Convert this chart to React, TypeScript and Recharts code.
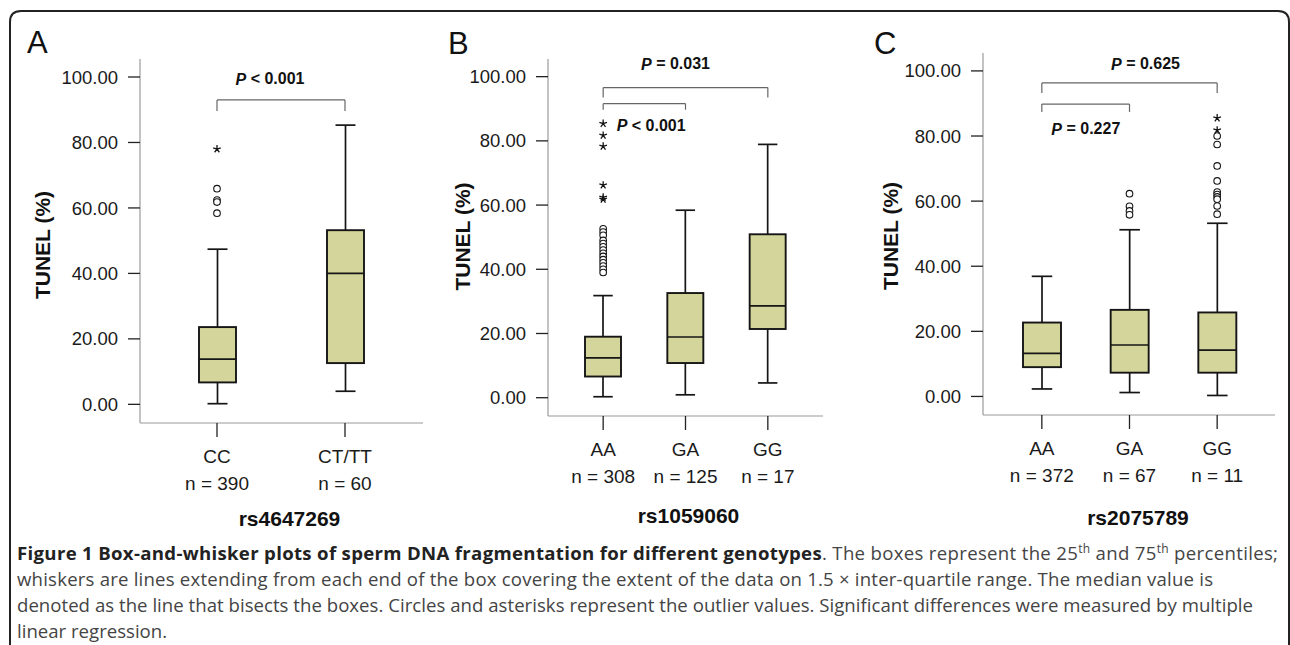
import React from 'react';
import {
  ComposedChart,
  Bar,
  Scatter,
  XAxis,
  YAxis,
  ReferenceLine,
  ReferenceDot,
} from 'recharts';

// ---- data (TUNEL %) ----
const genotypesA = ['CC', 'CT/TT'];
const countsA = [390, 60];
const lowA = [0.2, 4.0];
const q1A = [6.7, 12.6];
const medianA = [13.8, 40.0];
const q3A = [23.6, 53.2];
const highA = [47.4, 85.3];
const circlesA = [[65.9, 62.4, 61.8, 58.4], []];
const starsA = [[78.0], []];

const genotypesB = ['AA', 'GA', 'GG'];
const countsB = [308, 125, 17];
const lowB = [0.3, 0.9, 4.6];
const q1B = [6.6, 10.8, 21.4];
const medianB = [12.4, 18.9, 28.6];
const q3B = [19.0, 32.6, 50.9];
const highB = [31.8, 58.4, 78.9];
const circlesB = [
  [52.6, 51.6, 50.6, 49.0, 48.0, 47.0, 46.0, 45.0, 44.0, 43.0, 42.0, 41.0, 40.0, 39.0],
  [],
  [],
];
const starsB = [[85.4, 81.7, 78.3, 66.2, 62.4, 61.8], [], []];

const genotypesC = ['AA', 'GA', 'GG'];
const countsC = [372, 67, 11];
const lowC = [2.3, 1.2, 0.3];
const q1C = [9.0, 7.3, 7.3];
const medianC = [13.2, 15.8, 14.2];
const q3C = [22.7, 26.6, 25.8];
const highC = [36.9, 51.2, 53.2];
const circlesC = [
  [],
  [62.3, 58.4, 57.0, 55.8],
  [80.0, 77.4, 70.8, 66.2, 62.8, 62.0, 61.3, 60.6, 58.5, 56.0],
];
const starsC = [[], [], [85.5, 81.8]];

const yTicks = [0, 20, 40, 60, 80, 100];

// significance brackets: from / to category, level and foot in data units
const bracketsA = [{ from: 'CC', to: 'CT/TT', level: 93.0, foot: 89.6 }];
const bracketsB = [
  { from: 'AA', to: 'GG', level: 96.6, foot: 93.5 },
  { from: 'AA', to: 'GA', level: 91.6, foot: 89.7 },
];
const bracketsC = [
  { from: 'AA', to: 'GG', level: 96.3, foot: 93.2 },
  { from: 'AA', to: 'GA', level: 89.8, foot: 87.4 },
];
const pValuesA = [{ at: 'CC', value: 99.4, text: ' < 0.001', shift: 53 }];
const pValuesB = [
  { at: 'GA', value: 104.0, text: ' = 0.031', shift: -10 },
  { at: 'AA', value: 84.8, text: ' < 0.001', shift: 48 },
];
const pValuesC = [
  { at: 'GA', value: 102.2, text: ' = 0.625', shift: 16 },
  { at: 'AA', value: 82.2, text: ' = 0.227', shift: 44 },
];

const FONT = '"Liberation Sans", Arial, sans-serif';
const INK = '#151515';
const BOX_FILL = '#d4d59b';

function buildRows(names, low, q1, med, q3, high) {
  return names.map((name, i) => ({
    name,
    low: low[i],
    q1: q1[i],
    median: med[i],
    q3: q3[i],
    high: high[i],
    box: [q1[i], q3[i]],
  }));
}

function buildOutliers(names, circles, stars) {
  const out = [];
  names.forEach((name, i) => {
    circles[i].forEach((v) => out.push({ name, value: v, kind: 'o' }));
    stars[i].forEach((v) => out.push({ name, value: v, kind: '*' }));
  });
  return out;
}

// box + whiskers, using the bar rect (q1..q3) to recover the y scale
function BoxShape(props: any) {
  const { x, y, width, height, payload } = props;
  if (height == null || !payload) return null;
  const { q1, q3, median, low, high } = payload;
  const k = height / (q3 - q1);
  const yOf = (v: number) => y + (q3 - v) * k;
  const cx = x + width / 2;
  const cap = width * 0.27;
  return (
    <g>
      <line x1={cx} x2={cx} y1={yOf(high)} y2={y} stroke={INK} strokeWidth={1.7} />
      <line x1={cx} x2={cx} y1={y + height} y2={yOf(low)} stroke={INK} strokeWidth={1.7} />
      <line x1={cx - cap} x2={cx + cap} y1={yOf(high)} y2={yOf(high)} stroke={INK} strokeWidth={1.7} />
      <line x1={cx - cap} x2={cx + cap} y1={yOf(low)} y2={yOf(low)} stroke={INK} strokeWidth={1.7} />
      <rect x={x} y={y} width={width} height={height} fill={BOX_FILL} stroke={INK} strokeWidth={1.9} />
      <line x1={x} x2={x + width} y1={yOf(median)} y2={yOf(median)} stroke={INK} strokeWidth={1.7} />
    </g>
  );
}

function OutlierShape(props: any) {
  const { cx, cy, payload } = props;
  if (cx == null || cy == null) return null;
  if (payload.kind === 'o') {
    return <circle cx={cx} cy={cy} r={3.3} fill="#fff" stroke={INK} strokeWidth={1.1} />;
  }
  const arms = [-90, -18, 54, 126, 198].map((a) => {
    const r = (a * Math.PI) / 180;
    return `M${cx},${cy}L${cx + 4 * Math.cos(r)},${cy + 4 * Math.sin(r)}`;
  });
  return <path d={arms.join('')} stroke={INK} strokeWidth={1.3} fill="none" />;
}

function Panel({
  names,
  counts,
  rows,
  outliers,
  brackets,
  pValues,
  snp,
  layout,
}: any) {
  const xTick = (p: any) => {
    const { x, y, payload, index } = p;
    return (
      <g>
        <text x={x} y={y + 26} textAnchor="middle" fontSize={19} fill="#1a1a1a" fontFamily={FONT}>
          {payload.value}
        </text>
        <text x={x} y={y + 53} textAnchor="middle" fontSize={19} fill="#1a1a1a" fontFamily={FONT}>
          {`n = ${counts[names.indexOf(payload.value)] ?? counts[index]}`}
        </text>
      </g>
    );
  };

  const yTitle = (p: any) => {
    const vb = p.viewBox;
    const cx = vb.x + layout.titleX;
    const cy = vb.y + vb.height / 2 + layout.titleDy;
    return (
      <text
        x={cx}
        y={cy}
        transform={`rotate(-90 ${cx} ${cy})`}
        textAnchor="middle"
        dominantBaseline="central"
        fontSize={21}
        fontWeight={700}
        fill="#111"
        fontFamily={FONT}
      >
        TUNEL (%)
      </text>
    );
  };

  const xTitle = (p: any) => {
    const vb = p.viewBox;
    return (
      <text
        x={vb.x + vb.width / 2 + layout.snpDx}
        y={vb.y + layout.snpDy}
        textAnchor="middle"
        dominantBaseline="central"
        fontSize={21}
        fontWeight={700}
        fill="#111"
        fontFamily={FONT}
      >
        {snp}
      </text>
    );
  };

  return (
    <div style={{ position: 'absolute', left: layout.left, top: 0 }}>
      <ComposedChart
        width={layout.width}
        height={layout.height}
        data={rows}
        margin={{ top: layout.top, right: layout.right, left: 0, bottom: 0 }}
        barSize={layout.barSize}
      >
        <XAxis
          dataKey="name"
          type="category"
          allowDuplicatedCategory={false}
          interval={0}
          height={layout.xAxisHeight}
          padding={{ left: layout.padL, right: layout.padR }}
          tickSize={14}
          tickMargin={0}
          axisLine={{ stroke: '#9a9a9a', strokeWidth: 1.2 }}
          tickLine={{ stroke: '#222', strokeWidth: 1.3 }}
          tick={xTick}
          label={xTitle}
        />
        <YAxis
          type="number"
          domain={[-5.7, 105.5]}
          allowDataOverflow
          ticks={yTicks}
          tickFormatter={(v: number) => v.toFixed(2)}
          width={layout.yAxisWidth}
          tickSize={12}
          tickMargin={10}
          axisLine={{ stroke: '#9a9a9a', strokeWidth: 1.2 }}
          tickLine={{ stroke: '#222', strokeWidth: 1.3 }}
          tick={{ fontSize: 18.5, fill: '#1a1a1a', fontFamily: FONT }}
          label={yTitle}
        />
        {brackets.map((b: any, i: number) => (
          <ReferenceLine
            key={`h${i}`}
            segment={[
              { x: b.from, y: b.level },
              { x: b.to, y: b.level },
            ]}
            stroke="#666"
            strokeWidth={1.2}
          />
        ))}
        {brackets.map((b: any, i: number) => (
          <ReferenceLine
            key={`l${i}`}
            segment={[
              { x: b.from, y: b.level },
              { x: b.from, y: b.foot },
            ]}
            stroke="#666"
            strokeWidth={1.2}
          />
        ))}
        {brackets.map((b: any, i: number) => (
          <ReferenceLine
            key={`r${i}`}
            segment={[
              { x: b.to, y: b.level },
              { x: b.to, y: b.foot },
            ]}
            stroke="#666"
            strokeWidth={1.2}
          />
        ))}
        <Bar dataKey="box" shape={<BoxShape />} isAnimationActive={false} />
        <Scatter
          data={outliers}
          dataKey="value"
          shape={<OutlierShape />}
          isAnimationActive={false}
        />
        {pValues.map((p: any, i: number) => (
          <ReferenceDot
            key={`p${i}`}
            x={p.at}
            y={p.value}
            r={0}
            fill="none"
            stroke="none"
            label={(lp: any) => {
              const vb = lp.viewBox || {};
              return (
                <text
                  x={vb.x + (vb.width || 0) / 2 + p.shift}
                  y={vb.y + (vb.height || 0) / 2}
                  textAnchor="middle"
                  dominantBaseline="central"
                  fontSize={16}
                  fontWeight={700}
                  fill="#111"
                  fontFamily={FONT}
                >
                  <tspan fontStyle="italic">P</tspan>
                  {p.text}
                </text>
              );
            }}
          />
        ))}
      </ComposedChart>
    </div>
  );
}

const rowsA = buildRows(genotypesA, lowA, q1A, medianA, q3A, highA);
const rowsB = buildRows(genotypesB, lowB, q1B, medianB, q3B, highB);
const rowsC = buildRows(genotypesC, lowC, q1C, medianC, q3C, highC);
const outA = buildOutliers(genotypesA, circlesA, starsA);
const outB = buildOutliers(genotypesB, circlesB, starsB);
const outC = buildOutliers(genotypesC, circlesC, starsC);

const layoutA = {
  left: 0, width: 440, height: 540, top: 59, right: 17, xAxisHeight: 117,
  yAxisWidth: 140, padL: 13, padR: 14, barSize: 37, titleX: 42, titleDy: 4, snpDx: 8, snpDy: 95,
};
const layoutB = {
  left: 430, width: 430, height: 540, top: 59, right: 37, xAxisHeight: 124,
  yAxisWidth: 118, padL: 14, padR: 14, barSize: 36, titleX: 32, titleDy: -1, snpDx: 3, snpDy: 99,
};
const layoutC = {
  left: 860, width: 430, height: 540, top: 53, right: 15, xAxisHeight: 125,
  yAxisWidth: 123, padL: 15, padR: 14, barSize: 38, titleX: 30, titleDy: 2, snpDx: 9, snpDy: 102,
};

const CAPTION_FONT = '"Open Sans", "Noto Sans", sans-serif';

export default function App() {
  return (
    <div
      style={{
        position: 'absolute',
        left: 0,
        top: 0,
        width: 1290,
        height: 645,
        background: '#fff',
        overflow: 'hidden',
        fontFamily: FONT,
      }}
    >
      <Panel
        names={genotypesA}
        counts={countsA}
        rows={rowsA}
        outliers={outA}
        brackets={bracketsA}
        pValues={pValuesA}
        snp="rs4647269"
        layout={layoutA}
      />
      <Panel
        names={genotypesB}
        counts={countsB}
        rows={rowsB}
        outliers={outB}
        brackets={bracketsB}
        pValues={pValuesB}
        snp="rs1059060"
        layout={layoutB}
      />
      <Panel
        names={genotypesC}
        counts={countsC}
        rows={rowsC}
        outliers={outC}
        brackets={bracketsC}
        pValues={pValuesC}
        snp="rs2075789"
        layout={layoutC}
      />
      <svg
        width={1290}
        height={645}
        style={{ position: 'absolute', left: 0, top: 0, pointerEvents: 'none' }}
      >
        <path
          d="M10,645 L10,22 Q10,11 21,11 L1278,11 Q1289,11 1289,22 L1289,645"
          fill="none"
          stroke="#222"
          strokeWidth={2}
        />
        <text x={27} y={53} fontSize={31} fill="#111" fontFamily={FONT}>A</text>
        <text x={448} y={54} fontSize={31} fill="#111" fontFamily={FONT}>B</text>
        <text x={874} y={54} fontSize={31} fill="#111" fontFamily={FONT}>C</text>
        <g fontFamily={CAPTION_FONT} fontSize={18.6} fill="#444">
          <text x={17} y={560} textLength={1261} lengthAdjust="spacing">
            <tspan fontWeight={700} fill="#222">
              Figure 1 Box-and-whisker plots of sperm DNA fragmentation for different genotypes
            </tspan>
            . The boxes represent the 25
            <tspan dy={-7} fontSize={12}>th</tspan>
            <tspan dy={7}> and 75</tspan>
            <tspan dy={-7} fontSize={12}>th</tspan>
            <tspan dy={7}> percentiles;</tspan>
          </text>
          <text x={17} y={586} textLength={1196} lengthAdjust="spacing">
            whiskers are lines extending from each end of the box covering the extent of the data on 1.5 × inter-quartile range. The median value is
          </text>
          <text x={17} y={612} textLength={1236} lengthAdjust="spacing">
            denoted as the line that bisects the boxes. Circles and asterisks represent the outlier values. Significant differences were measured by multiple
          </text>
          <text x={17} y={638}>linear regression.</text>
        </g>
      </svg>
    </div>
  );
}
